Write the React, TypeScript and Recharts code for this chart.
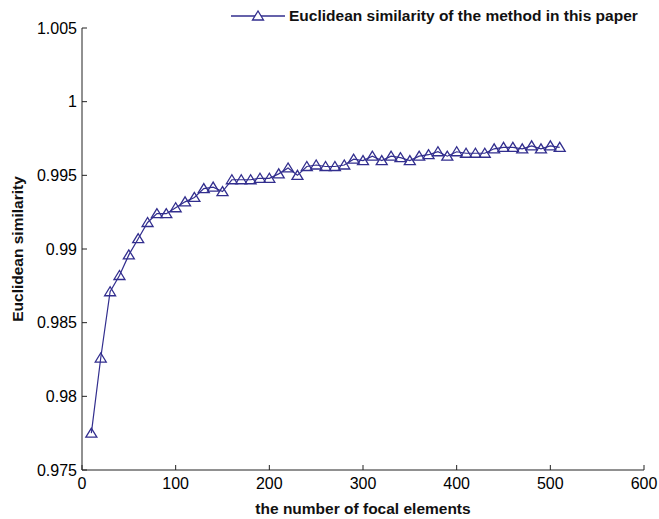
import { Label, Legend, Line, LineChart, XAxis, YAxis } from "recharts";

// number of focal elements (x) and the Euclidean similarity (y)
const focalElements = [
  10, 20, 30, 40, 50, 60, 70, 80, 90, 100, 110, 120, 130, 140, 150, 160, 170,
  180, 190, 200, 210, 220, 230, 240, 250, 260, 270, 280, 290, 300, 310, 320,
  330, 340, 350, 360, 370, 380, 390, 400, 410, 420, 430, 440, 450, 460, 470,
  480, 490, 500, 510,
];
const similarity = [
  0.9775, 0.9826, 0.9871, 0.9882, 0.9896, 0.9907, 0.9918, 0.9924, 0.9924,
  0.9928, 0.9932, 0.9935, 0.9941, 0.9942, 0.9939, 0.9947, 0.9947, 0.9947,
  0.9948, 0.9948, 0.9951, 0.9955, 0.995, 0.9956, 0.9957, 0.9956, 0.9956,
  0.9957, 0.9961, 0.996, 0.9963, 0.996, 0.9963, 0.9962, 0.996, 0.9963, 0.9964,
  0.9966, 0.9963, 0.9966, 0.9965, 0.9965, 0.9965, 0.9968, 0.9969, 0.9969,
  0.9968, 0.997, 0.9968, 0.997, 0.9969,
];
const xTicks = [0, 100, 200, 300, 400, 500, 600];
const yTicks = [0.975, 0.98, 0.985, 0.99, 0.995, 1, 1.005];
const seriesName = "Euclidean similarity of the method in this paper";

const COLOR = "#322e8e";
const FONT = "'Liberation Sans', Arial, sans-serif";

const data = focalElements.map((n, i) => ({ n, sim: similarity[i] }));

// hollow triangle marker, like MATLAB's '^'
const Triangle = (props: any) => {
  const { cx, cy, index } = props;
  if (cx == null || cy == null) return null;
  const pts = `${cx},${cy - 5} ${cx - 5.5},${cy + 4} ${cx + 5.5},${cy + 4}`;
  return (
    <polygon key={index} points={pts} fill="none" stroke={COLOR} strokeWidth={1.3} />
  );
};

const LegendBox = () => (
  <div
    style={{
      display: "flex",
      alignItems: "center",
      fontFamily: FONT,
      fontSize: 15.5,
      fontWeight: "bold",
      color: "#111",
    }}
  >
    <svg width={58} height={16}>
      <line x1={0} y1={8} x2={54} y2={8} stroke={COLOR} strokeWidth={1.3} />
      <polygon points="27,3 21.5,12 32.5,12" fill="#fff" stroke={COLOR} strokeWidth={1.3} />
    </svg>
    <span>{seriesName}</span>
  </div>
);

const App = () => {
  return (
    <div style={{ position: "absolute", top: 0, left: 0, background: "#fff" }}>
      <LineChart
        width={659}
        height={519}
        data={data}
        margin={{ top: 28, right: 15, left: 0, bottom: 0 }}
      >
        <XAxis
          dataKey="n"
          type="number"
          domain={[0, 600]}
          ticks={xTicks}
          height={49}
          stroke="#222"
          tickSize={-5}
          tickMargin={13}
          tick={{ fill: "#000", fontSize: 16, fontFamily: FONT }}
        >
          <Label
            value="the number of focal elements"
            position="insideBottom"
            offset={5}
            style={{ fill: "#111", fontSize: 15.5, fontWeight: "bold", fontFamily: FONT }}
          />
        </XAxis>
        <YAxis
          type="number"
          domain={[0.975, 1.005]}
          ticks={yTicks}
          width={82}
          stroke="#222"
          tickSize={-5}
          tickMargin={10}
          tickFormatter={(v: number) => String(Number(v.toFixed(3)))}
          tick={{ fill: "#000", fontSize: 16, fontFamily: FONT }}
        >
          <Label
            content={(p: any) => {
              const vb = p.viewBox || {};
              const cy = (vb.y ?? 28) + (vb.height ?? 442) / 2;
              return (
                <text
                  x={17}
                  y={cy}
                  transform={`rotate(-90, 17, ${cy})`}
                  textAnchor="middle"
                  dominantBaseline="central"
                  fill="#111"
                  fontSize={15.5}
                  fontWeight="bold"
                  fontFamily={FONT}
                >
                  Euclidean similarity
                </text>
              );
            }}
          />
        </YAxis>
        <Legend
          layout="horizontal"
          verticalAlign="middle"
          content={() => <LegendBox />}
          wrapperStyle={{ top: 7, left: 231, width: "auto" }}
        />
        <Line
          type="linear"
          dataKey="sim"
          name={seriesName}
          stroke={COLOR}
          strokeWidth={1.2}
          dot={<Triangle />}
          activeDot={false}
          isAnimationActive={false}
        />
      </LineChart>
    </div>
  );
};

export default App;
